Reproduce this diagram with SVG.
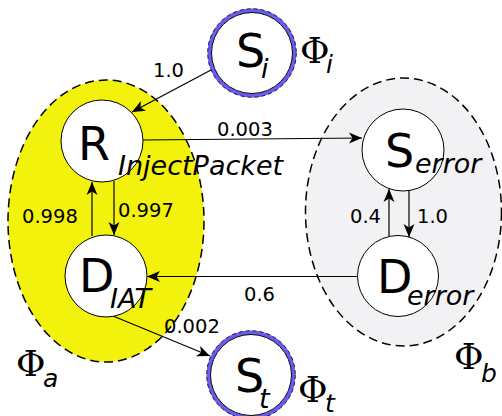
<svg xmlns="http://www.w3.org/2000/svg" width="502" height="416" viewBox="0 0 502 416">
<defs>
<style>
.grp{stroke:#000;stroke-width:1.5;stroke-dasharray:9,5}
.node{fill:#fff;stroke:#000;stroke-width:1}
.ring{fill:none;stroke:#6a5cf0;stroke-width:4}
.ringd{fill:none;stroke:#000;stroke-width:0.8;stroke-dasharray:4,3}
.big{font-family:"DejaVu Sans",sans-serif;font-size:46px;fill:#000}
.sub{font-family:"DejaVu Sans",sans-serif;font-size:27px;font-style:italic;fill:#000}
.phi{font-family:"DejaVu Serif",serif;font-size:36px;fill:#000}
.psub{font-family:"DejaVu Sans",sans-serif;font-size:25px;font-style:italic;fill:#000}
.lbl{font-family:"DejaVu Sans",sans-serif;font-size:19.5px;fill:#000}
.edge{fill:none;stroke:#000;stroke-width:1.2;marker-end:url(#arr)}
</style>
<marker id="arr" markerUnits="userSpaceOnUse" markerWidth="16" markerHeight="12" viewBox="-14 -6 16 12" refX="0" refY="0" orient="auto">
<path d="M0,0 L-13,-5.5 L-9.5,0 L-13,5.5 Z" fill="#000"/>
</marker>
</defs>
<g id="group-a">
<ellipse class="grp" cx="106" cy="221" rx="98" ry="141" fill="#f2f20d"/>
</g>
<g id="group-b">
<ellipse class="grp" cx="403.5" cy="212" rx="98" ry="134" fill="#f2f2f4"/>
</g>
<g id="connectors">
<line class="edge" x1="211" y1="70" x2="132" y2="112"/>
<line class="edge" x1="143" y1="140" x2="362" y2="138"/>
<line class="edge" x1="114" y1="181" x2="114" y2="235"/>
<line class="edge" x1="92" y1="236" x2="92" y2="182"/>
<line class="edge" x1="409" y1="191" x2="409" y2="237"/>
<line class="edge" x1="389" y1="236" x2="389" y2="189"/>
<line class="edge" x1="358" y1="276.5" x2="147" y2="276.5"/>
<line class="edge" x1="113" y1="316" x2="210" y2="356"/>
<text class="lbl" x="153" y="77">1.0</text>
<text class="lbl" x="217" y="136">0.003</text>
<text class="lbl" x="22" y="223">0.998</text>
<text class="lbl" x="118" y="217">0.997</text>
<text class="lbl" x="350" y="223">0.4</text>
<text class="lbl" x="417" y="223">1.0</text>
<text class="lbl" x="244" y="301">0.6</text>
<text class="lbl" x="164" y="333">0.002</text>
</g>
<g id="node-Si">
<circle class="ring" cx="252" cy="53" r="42.5"/>
<circle class="ringd" cx="252" cy="53" r="44.3"/>
<circle class="node" cx="252" cy="53" r="40.5"/>
<text class="big" x="236" y="67">S</text>
<text class="sub" x="261" y="78">i</text>
<text class="phi" x="300" y="63">Φ</text>
<text class="psub" x="326" y="73">i</text>
</g>
<g id="node-R">
<circle class="node" cx="102" cy="141" r="41"/>
<text class="big" x="78" y="160">R</text>
<text class="sub" x="118" y="175">InjectPacket</text>
</g>
<g id="node-DIAT">
<circle class="node" cx="106" cy="276" r="41"/>
<text class="big" x="79" y="292">D</text>
<text class="sub" x="110" y="308">IAT</text>
</g>
<g id="node-Serror">
<circle class="node" cx="403" cy="150" r="41"/>
<text class="big" x="385" y="167">S</text>
<text class="sub" x="415" y="173">error</text>
</g>
<g id="node-Derror">
<circle class="node" cx="398" cy="276" r="40.5"/>
<text class="big" x="377" y="293">D</text>
<text class="sub" x="407" y="305">error</text>
</g>
<g id="node-St">
<circle class="ring" cx="251" cy="375" r="42.5"/>
<circle class="ringd" cx="251" cy="375" r="44.3"/>
<circle class="node" cx="251" cy="375" r="40.5"/>
<text class="big" x="235" y="392">S</text>
<text class="sub" x="259" y="408">t</text>
<text class="phi" x="298" y="402">Φ</text>
<text class="psub" x="325" y="412">t</text>
</g>
<g id="labels-phi">
<text class="phi" x="16" y="376">Φ</text>
<text class="psub" x="43" y="387">a</text>
<text class="phi" x="454" y="369">Φ</text>
<text class="psub" x="481" y="382">b</text>
</g>
</svg>
